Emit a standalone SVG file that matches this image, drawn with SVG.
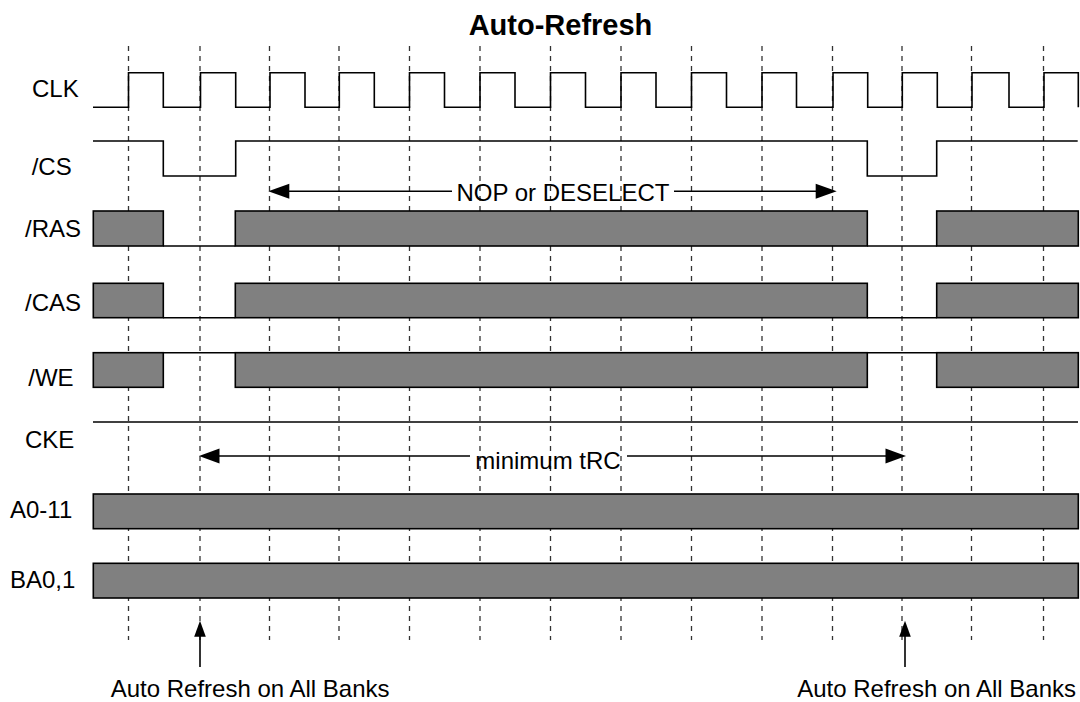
<svg xmlns="http://www.w3.org/2000/svg" width="1080" height="702" viewBox="0 0 1080 702">
<style>
.lbl{font-family:"Liberation Sans",Arial,sans-serif;font-size:24px;fill:#000}
.ttl{font-family:"Liberation Sans",Arial,sans-serif;font-size:29px;font-weight:bold;fill:#000}
.grid{stroke:#333;stroke-width:1.3;stroke-dasharray:5,5;fill:none}
.sig{stroke:#000;stroke-width:1.6;fill:none}
.bus{stroke:#000;stroke-width:1.6;fill:#808080}
.arr{stroke:#000;stroke-width:1.6;fill:none}
.head{fill:#000;stroke:none}
</style>
<rect width="1080" height="702" fill="#fff"/>
<text class="ttl" x="560.5" y="35" text-anchor="middle">Auto-Refresh</text>
<g id="grid">
<line class="grid" x1="128.5" y1="46" x2="128.5" y2="640"/>
<line class="grid" x1="200" y1="46" x2="200" y2="640"/>
<line class="grid" x1="269.5" y1="46" x2="269.5" y2="640"/>
<line class="grid" x1="339" y1="46" x2="339" y2="640"/>
<line class="grid" x1="409.5" y1="46" x2="409.5" y2="640"/>
<line class="grid" x1="480" y1="46" x2="480" y2="640"/>
<line class="grid" x1="550.5" y1="46" x2="550.5" y2="640"/>
<line class="grid" x1="621" y1="46" x2="621" y2="640"/>
<line class="grid" x1="691.5" y1="46" x2="691.5" y2="640"/>
<line class="grid" x1="762" y1="46" x2="762" y2="640"/>
<line class="grid" x1="832.5" y1="46" x2="832.5" y2="640"/>
<line class="grid" x1="902" y1="46" x2="902" y2="640"/>
<line class="grid" x1="971.5" y1="46" x2="971.5" y2="640"/>
<line class="grid" x1="1043.5" y1="46" x2="1043.5" y2="640"/>
</g>
<g id="clk">
<text class="lbl" x="32" y="97.3">CLK</text>
<path class="sig" d="M93,107.3 H128.5 V72.7 H163.3 V107.3 H200.5 V72.7 H235.7 V107.3 H270 V72.7 H305 V107.3 H339.3 V72.7 H374.3 V107.3 H409.5 V72.7 H444.5 V107.3 H480 V72.7 H515 V107.3 H550.5 V72.7 H585.5 V107.3 H621 V72.7 H656 V107.3 H691.5 V72.7 H726.5 V107.3 H762 V72.7 H796.5 V107.3 H833 V72.7 H867.7 V107.3 H902.3 V72.7 H937.3 V107.3 H972 V72.7 H1009 V107.3 H1044 V72.7 H1078.3 V107.3"/>
</g>
<g id="cs">
<text class="lbl" x="31.7" y="174.5">/CS</text>
<path class="sig" d="M93,141 H163.3 V176 H235.7 V141 H867.3 V176 H936.7 V141 H1077.7"/>
</g>
<g id="ras">
<text class="lbl" x="25" y="236.5">/RAS</text>
<rect class="bus" x="93.3" y="211" width="70" height="35"/>
<rect class="bus" x="235.3" y="211" width="632" height="35"/>
<rect class="bus" x="936.7" y="211" width="141.6" height="35"/>
<path class="sig" d="M163.3,246 H235.3 M867.3,246 H936.7"/>
</g>
<g id="cas">
<text class="lbl" x="25" y="311">/CAS</text>
<rect class="bus" x="93.3" y="283.3" width="70" height="34.4"/>
<rect class="bus" x="235.3" y="283.3" width="632" height="34.4"/>
<rect class="bus" x="936.7" y="283.3" width="141.6" height="34.4"/>
<path class="sig" d="M163.3,317.7 H235.3 M867.3,317.7 H936.7"/>
</g>
<g id="we">
<text class="lbl" x="28.3" y="385.7">/WE</text>
<rect class="bus" x="93.3" y="352.7" width="70" height="34.6"/>
<rect class="bus" x="235.3" y="352.7" width="632" height="34.6"/>
<rect class="bus" x="936.7" y="352.7" width="141.6" height="34.6"/>
<path class="sig" d="M163.3,352.7 H235.3 M867.3,352.7 H936.7"/>
</g>
<g id="cke">
<text class="lbl" x="25" y="448.3">CKE</text>
<line class="sig" x1="93" y1="422" x2="1078" y2="422"/>
</g>
<g id="a0-11">
<text class="lbl" x="10" y="518.3">A0-11</text>
<rect class="bus" x="93.3" y="494" width="985" height="34.7"/>
</g>
<g id="ba0-1">
<text class="lbl" x="10" y="588.3">BA0,1</text>
<rect class="bus" x="93.3" y="563.3" width="985" height="34.7"/>
</g>
<g id="connectors">
<g id="nop">
<path class="arr" d="M286,191.3 H452 M674,191.3 H818"/>
<polygon class="head" points="268.3,191.3 289.3,183.8 289.3,198.8"/>
<polygon class="head" points="836.7,191.3 815.7,183.8 815.7,198.8"/>
<text class="lbl" x="563" y="200.5" text-anchor="middle">NOP or DESELECT</text>
</g>
<g id="trc">
<path class="arr" d="M216,456 H470 M627,456 H889"/>
<polygon class="head" points="199,456 219.5,448.5 219.5,463.5"/>
<polygon class="head" points="906,456 885.5,448.5 885.5,463.5"/>
<text class="lbl" x="548" y="469" text-anchor="middle">minimum tRC</text>
</g>
<g id="ar1">
<line class="arr" x1="200" y1="634" x2="200" y2="667"/>
<polygon class="head" points="200,620.7 194.2,636.7 205.8,636.7"/>
</g>
<g id="ar2">
<line class="arr" x1="905" y1="634" x2="905" y2="667"/>
<polygon class="head" points="905,620.7 899.2,636.7 910.8,636.7"/>
</g>
</g>
<text class="lbl" x="110.7" y="697">Auto Refresh on All Banks</text>
<text class="lbl" x="1076" y="697" text-anchor="end">Auto Refresh on All Banks</text>
</svg>
